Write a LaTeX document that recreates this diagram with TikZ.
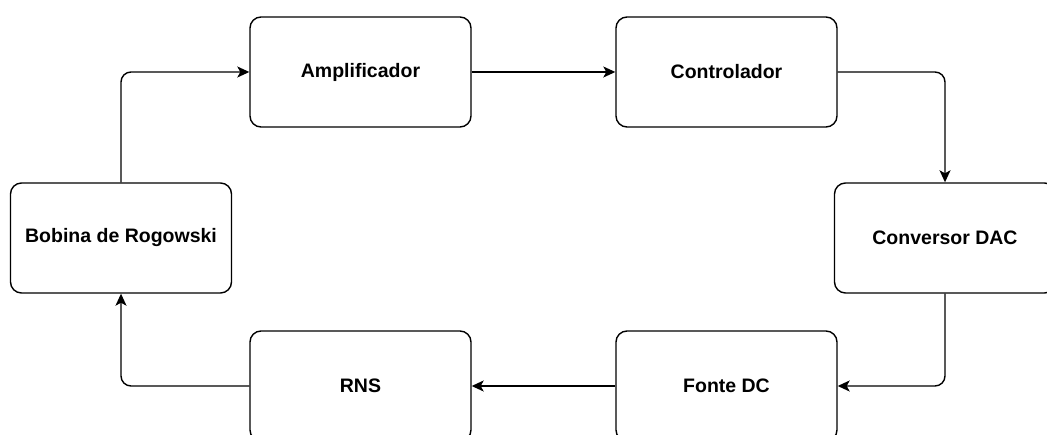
\documentclass[tikz,border=0pt]{standalone}
\usepackage{fontspec}
\setmainfont{Liberation Sans}
\usetikzlibrary{arrows.meta}

\begin{document}
\begin{tikzpicture}[x=1pt, y=1pt,
        font=\fontsize{19.5}{22}\selectfont\bfseries,
        bloco/.style={draw, line width=1.4pt, rounded corners=11pt,
            minimum width=221pt, minimum height=110pt, inner sep=0pt},
        liga/.style={line width=1.4pt, rounded corners=10pt,
            -{Stealth[length=12pt, width=11pt, inset=3pt]}}]
        \useasboundingbox (0,0) rectangle (1047,434);
        % top row
        \node[bloco] (amp)  at (360.5,362) {Amplificador};
        \node[bloco] (ctrl) at (726.5,362) {Controlador};
        % middle row (DAC box runs past the right margin)
        \node[bloco] (bob) at (121,196) {Bobina de Rogowski};
        \node[bloco] (dac) at (945,196) {Conversor DAC};
        % bottom row (cut at the lower margin)
        \node[bloco] (rns)   at (360.5,48) {RNS};
        \node[bloco] (fonte) at (726.5,48) {Fonte DC};
        % loop
        \draw[liga] (bob.north) |- (amp.west);
        \draw[liga] (amp.east) -- (ctrl.west);
        \draw[liga] (ctrl.east) -| (dac.north);
        \draw[liga] (dac.south) |- (fonte.east);
        \draw[liga] (fonte.west) -- (rns.east);
        \draw[liga] (rns.west) -| (bob.south);
    \end{tikzpicture}
\end{document}
